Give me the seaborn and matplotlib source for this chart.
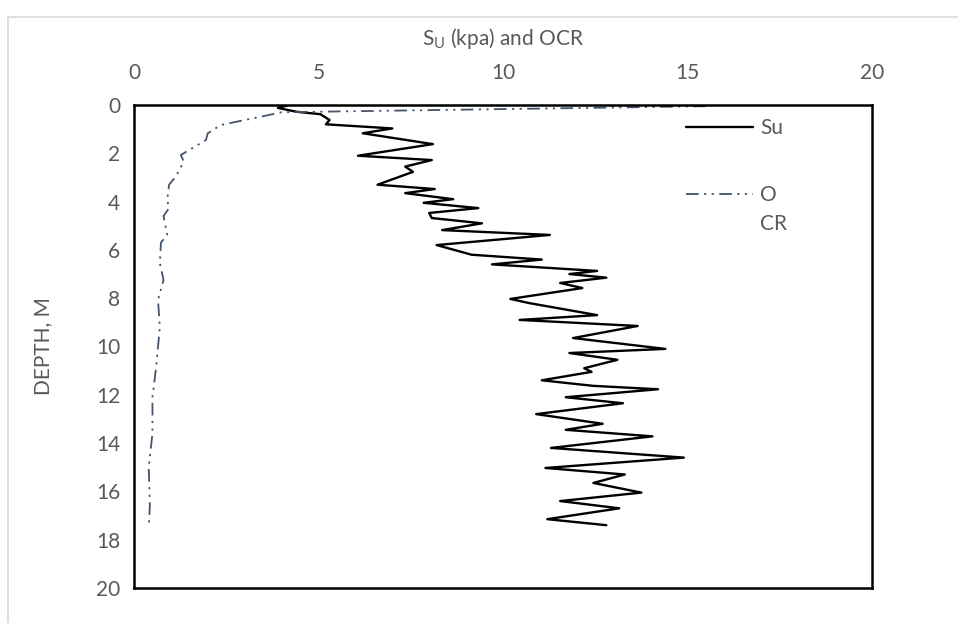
import matplotlib
matplotlib.use("Agg")
import matplotlib.pyplot as plt
import seaborn as sns
from matplotlib.lines import Line2D

# ---- data ----
su_depth = [0.0, 0.12, 0.28, 0.38, 0.62, 0.8, 0.97, 1.17, 1.62, 2.1, 2.28, 2.55, 2.77,
            3.3, 3.48, 3.65, 3.9, 4.05, 4.27, 4.47, 4.68, 4.9, 5.18, 5.38, 5.8, 6.2,
            6.4, 6.6, 6.87, 7.0, 7.15, 7.37, 7.58, 8.03, 8.2, 8.7, 8.9, 9.15, 9.65,
            10.1, 10.27, 10.55, 10.9, 11.05, 11.4, 11.63, 11.77, 12.1, 12.35, 12.8,
            13.2, 13.45, 13.72, 14.2, 14.6, 15.03, 15.3, 15.65, 16.05, 16.4, 16.7,
            17.15, 17.4]
su_value = [4.2, 3.9, 4.4, 5.05, 5.3, 5.2, 7.0, 6.2, 8.1, 6.07, 8.07, 7.35, 7.56,
            6.6, 8.15, 7.35, 8.65, 7.85, 9.33, 8.0, 8.07, 9.43, 8.35, 11.27, 8.2, 9.15,
            11.05, 9.7, 12.55, 11.8, 12.8, 11.55, 12.15, 10.2, 10.7, 12.55, 10.45, 13.65, 11.9,
            14.4, 11.8, 13.1, 12.2, 12.4, 11.05, 12.45, 14.2, 11.7, 13.25, 10.9,
            12.7, 11.7, 14.05, 11.3, 14.9, 11.15, 13.3, 12.45, 13.75, 11.55, 13.15,
            11.2, 12.8]

ocr_depth = [0.05, 0.3, 0.48, 0.75, 0.83, 1.17, 1.45, 2.07, 2.35, 2.97, 3.3, 3.93, 4.27,
             4.6, 5.38, 5.7, 6.55, 7.25, 8.07, 9.2, 10.85, 12.1, 13.6, 15.0, 16.6, 17.45]
ocr_value = [15.5, 4.0, 3.45, 2.6, 2.35, 2.0, 1.95, 1.27, 1.35, 1.13, 0.95, 0.9, 0.95,
             0.8, 0.9, 0.73, 0.7, 0.8, 0.65, 0.7, 0.6, 0.5, 0.5, 0.4, 0.43, 0.4]

x_ticks = [0, 5, 10, 15, 20]
y_ticks = [0, 2, 4, 6, 8, 10, 12, 14, 16, 18, 20]
series_labels = ["Su", "O", "CR"]   # OCR legend label wraps onto two lines
x_title = r"S$_\mathregular{U}$ (kpa) and OCR"
y_title = "DEPTH, M"

# ---- style ----
sns.set_theme(style="white")
plt.rcParams['font.family'] = ['Lato', 'DejaVu Sans']
plt.rcParams['mathtext.fontset'] = 'custom'
plt.rcParams['mathtext.rm'] = 'Lato'
text_col = "#595959"
fs = 15

fig = plt.figure(figsize=(9.58, 6.23), dpi=100)
ax = fig.add_axes([134 / 958, 1 - 588 / 623, 738 / 958, 483 / 623])

sns.lineplot(x=su_value, y=su_depth, sort=False, orient="y", estimator=None,
             color="black", linewidth=1.7, label=series_labels[0], ax=ax)
sns.lineplot(x=ocr_value, y=ocr_depth, sort=False, orient="y", estimator=None,
             color="#44546A", linewidth=1.3, label=series_labels[1], ax=ax)
ax.lines[0].set_solid_joinstyle("round")
ax.lines[1].set_dashes([7, 3, 1.2, 3, 1.2, 3])

ax.set_xlim(0, 20)
ax.set_ylim(20, 0)
ax.set_xticks(x_ticks)
ax.set_yticks(y_ticks)
ax.xaxis.tick_top()
ax.xaxis.set_label_position("top")
ax.tick_params(axis="both", length=0, labelsize=fs, labelcolor=text_col)
ax.tick_params(axis="x", pad=16)
ax.tick_params(axis="y", pad=10)
ax.set_xlabel(x_title, fontsize=fs, color=text_col)
ax.set_ylabel(y_title, fontsize=fs, color=text_col)
ax.xaxis.set_label_coords(0.5, 1.125)
ax.yaxis.set_label_coords(-0.11, 0.5)
ax.grid(False)
for s in ax.spines.values():
    s.set_visible(True)
    s.set_color("black")
    s.set_linewidth(1.8)

leg = ax.legend(loc="upper left", bbox_to_anchor=(0.737, 0.99), frameon=False,
                fontsize=fs, labelcolor=text_col, handlelength=3.2, handletextpad=0.35,
                labelspacing=2.25, borderaxespad=0)

# second line of the wrapped "OCR" legend label, placed under its first line
fig.canvas.draw()
t = leg.get_texts()[1]
bb = t.get_window_extent()
inv = ax.transAxes.inverted()
x0, y0 = inv.transform((bb.x0, bb.y0))
ax.text(x0, y0 - 29 / 483, series_labels[2], transform=ax.transAxes, fontsize=fs,
        color=text_col, ha="left", va="bottom")

# outer chart border (partly visible in the reference)
fig.add_artist(Line2D([8 / 958, 8 / 958], [0, 1 - 17 / 623], color="#D9D9D9", lw=1.2))
fig.add_artist(Line2D([8 / 958, 1], [1 - 17 / 623, 1 - 17 / 623], color="#D9D9D9", lw=1.2))

fig.savefig("out.png", dpi=100)
